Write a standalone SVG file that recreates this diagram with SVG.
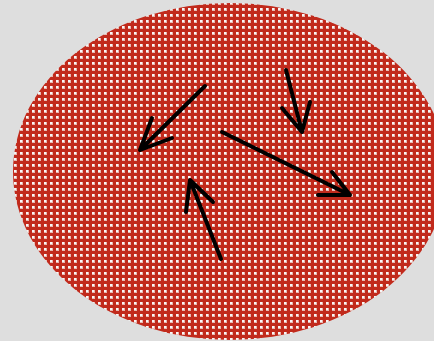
<svg xmlns="http://www.w3.org/2000/svg" width="434" height="341" viewBox="0 0 434 341">
<defs>
<pattern id="dots" x="0" y="0" width="6" height="6" patternUnits="userSpaceOnUse">
<rect width="6" height="6" fill="#c12a1c"/>
<rect x="2" y="2" width="3" height="3" fill="#e8b8b0"/>
<rect x="2" y="2" width="2" height="2" fill="#f8f6f6"/>
</pattern>
</defs>
<style>
.arr{fill:none;stroke:#000;stroke-width:4;stroke-linecap:round;stroke-linejoin:round}
</style>
<rect width="434" height="341" fill="#dedede"/>
<g id="ellipse">
<ellipse cx="230" cy="171.5" rx="217" ry="168.5" fill="url(#dots)"/>
</g>
<g id="connectors">
<path class="arr" d="M205,86 L140,150 M152,118 L140,150 L172,138"/>
<path class="arr" d="M286,70 L302,132 M282,108 L302,132 L310,102"/>
<path class="arr" d="M222,132 L350,195 M318,195 L350,195 L332,172"/>
<path class="arr" d="M221,259 L190,180 M186,212 L190,180 L213,202"/>
</g>
</svg>
